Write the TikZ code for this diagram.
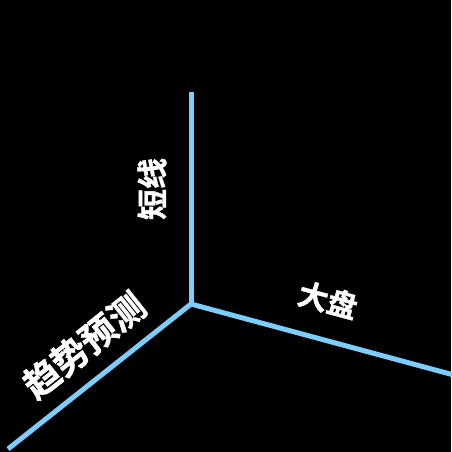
\documentclass[tikz,border=0pt]{standalone}
\usepackage{fontspec}
\newfontfamily\cjk{Noto Sans CJK SC}[BoldFont={Noto Sans CJK SC Bold},BoldFeatures={FakeBold=1.2}]
\definecolor{axisblue}{RGB}{125,205,250}
\begin{document}
\begin{tikzpicture}[x=1pt,y=-1pt,
  axisline/.style={draw=axisblue,line width=5pt},
  lbl/.style={text=white,font=\cjk\bfseries,inner sep=0pt}]
\fill[black] (0,0) rectangle (451,452);
\useasboundingbox (0,0) rectangle (451,452);
\coordinate (o) at (191,304);
\coordinate (up) at (191,92);
\coordinate (rt) at (452,374.5);
\coordinate (dl) at (8,449);
\draw[axisline] (o) -- (up);
\draw[axisline] (o) -- (rt);
\draw[axisline] (o) -- (dl);
\node[lbl,font=\cjk\bfseries\fontsize{31}{31}\selectfont,rotate=90] (t1) at (152,189) {短线};
\node[lbl,font=\cjk\bfseries\fontsize{30}{30}\selectfont,rotate=-15] (t2) at (328,300) {大盘};
\node[lbl,font=\cjk\bfseries\fontsize{36}{36}\selectfont,rotate=38.5] (t3) at (84,345) {趋势预测};
\end{tikzpicture}
\end{document}
